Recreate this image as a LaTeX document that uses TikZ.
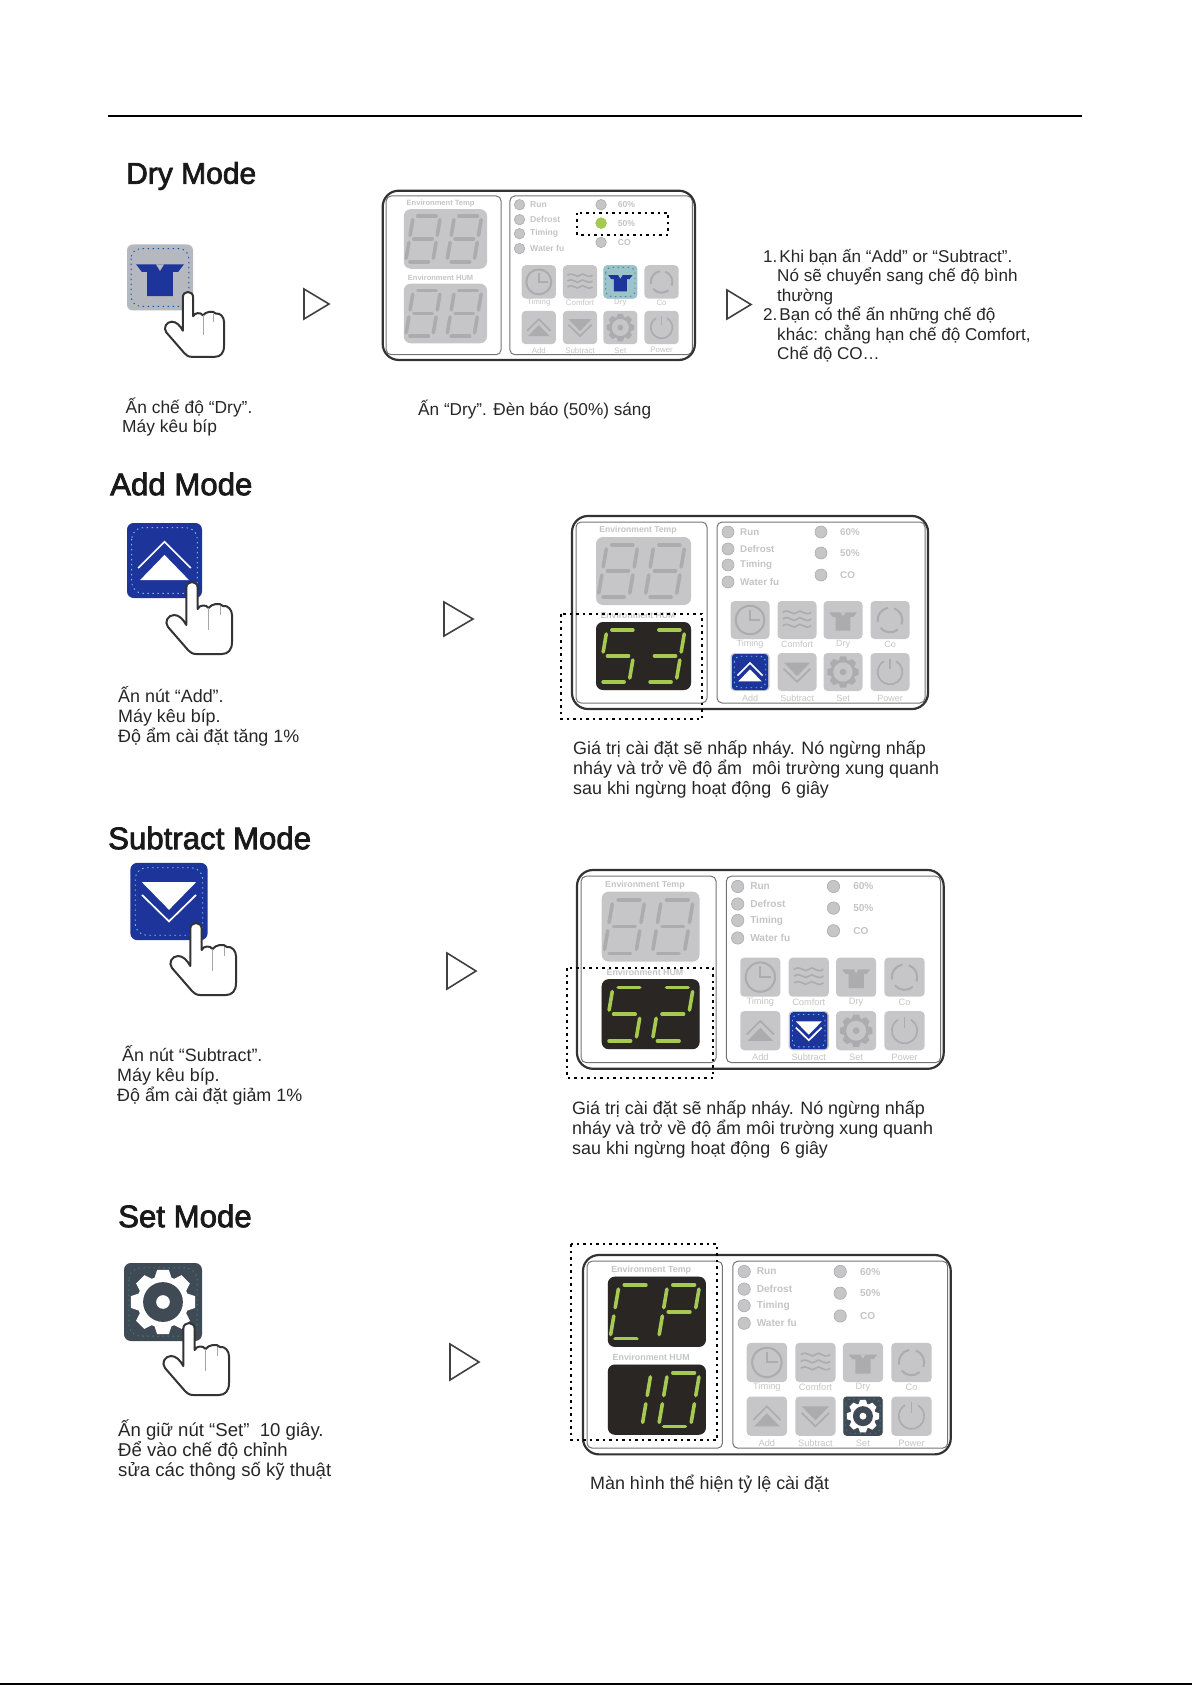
\documentclass[tikz,border=0pt]{standalone}
\usepackage{fontspec}
\setmainfont{Liberation Sans}
\newfontfamily\titlefont[FakeBold=2.4]{Liberation Sans}
\newcommand{\sega}{(-10.5,-26) -- (10.5,-26)}
\newcommand{\segb}{(15.5,-22) -- (15.5,-4)}
\newcommand{\segc}{(15.5,4) -- (15.5,22)}
\newcommand{\segd}{(-10.5,26) -- (10.5,26)}
\newcommand{\sege}{(-15.5,4) -- (-15.5,22)}
\newcommand{\segf}{(-15.5,-22) -- (-15.5,-4)}
\newcommand{\segg}{(-10.5,0) -- (10.5,0)}
\newcommand{\capstrut}{\rule{0pt}{20pt}}
\newcommand{\segdigit}[4]{%
    \begin{scope}[shift={(#1,#2)},xslant=0.17]
        \foreach \s in {#3} {
            \expandafter\let\expandafter\segpath\csname seg\s\endcsname
            \draw[segline,#4] \segpath;
        }
    \end{scope}}
\newcommand{\segdisplay}[6]{%
    \node[segbox,fill=#3] (#1) at (71.5,#2) {};
    \segdigit{46}{#2}{#5}{#4}
    \segdigit{93}{#2}{#6}{#4}}
\newcommand{\iconclock}[2]{%
    \draw[#1,line width=2pt] (0,0) circle[radius=15];
    \draw[#1,line width=2pt] (0,-11) -- (0,0) -- (11,0);}
\newcommand{\iconwave}[2]{%
    \foreach \d in {-8,-1,6} {
        \draw[#1,line width=1.6pt] (-15,\d) .. controls (-8,\d-5) and (-4,\d+5) .. (0,\d) .. controls (4,\d-5) and (8,\d+5) .. (15,\d);
    }}
\newcommand{\iconshirt}[2]{%
    \fill[#1] (-14.5,-8) -- (14.5,-8) -- (11,-3.4) -- (7.8,-3.4) -- (7.8,11.3) -- (-7.8,11.3) -- (-7.8,-3.4) -- (-11,-3.4) -- cycle;
    \fill[#2] (-2.5,-8) -- (2.5,-8) -- (0,-4) -- cycle;}
\newcommand{\iconcycle}[2]{%
    \draw[#1,line width=2pt] (-70:13) arc[start angle=-70,end angle=20,radius=13];
    \draw[#1,line width=2pt] (50:13) arc[start angle=50,end angle=140,radius=13];
    \draw[#1,line width=2pt] (170:13) arc[start angle=170,end angle=260,radius=13];}
\newcommand{\iconadd}[2]{%
    \draw[#1,line width=1.7pt] (-14,4) -- (0,-10) -- (14,4);
    \fill[#1] (-13,10.4) -- (0,-3) -- (13,10.4) -- cycle;}
\newcommand{\iconsub}[2]{%
    \draw[#1,line width=1.7pt] (-14,-3.4) -- (0,10.3) -- (14,-3.4);
    \fill[#1] (-14,-10) -- (14,-10) -- (0,4.3) -- cycle;}
\newcommand{\icongear}[2]{%
    \foreach \a in {0,45,...,315} {
        \fill[#1,rotate=\a] (-3,-16.5) -- (3,-16.5) -- (4.5,-12) -- (-4.5,-12) -- cycle;
    }
    \fill[#1] (0,0) circle[radius=13.2];
    \fill[#2] (0,0) circle[radius=10.2];
    \fill[#1] (0,0) circle[radius=3.5];}
\newcommand{\iconpower}[2]{%
    \draw[#1,line width=1.6pt] (-60:13) arc[start angle=-60,end angle=240,radius=13];
    \draw[#1,line width=1.6pt] (0,-14) -- (0,-3);}
\newcommand{\iconbutton}[7]{%
    \begin{scope}[shift={(#1,#2)},scale=#3]
        \fill[#4,rounded corners={#3*3.5pt}] (-20,-20) rectangle (20,20);
        \draw[#7,dash pattern=on 1.5pt off 3.5pt,line width=0.9pt,rounded corners={#3*6pt}] (-17.5,-17.5) rectangle (17.5,17.5);
        \csname icon#6\endcsname{#5}{#4}
    \end{scope}}
\newcommand{\presshand}[3]{%
    \begin{scope}[shift={(#1,#2)},scale=#3]
        \draw[handline] (-5.7,6) .. controls (-5.7,2) and (-3,0) .. (0,0) .. controls (3,0) and (5.7,2) .. (5.7,6) -- (5.7,27) .. controls (7,23) and (14,22) .. (16.7,26) .. controls (19,22) and (28,20) .. (31,24) .. controls (36,23) and (40,28) .. (40,33) -- (40,60) .. controls (40,68) and (36,72) .. (30,72) -- (4,72) .. controls (0,72) and (-2,70) .. (-4,68) -- (-24,45) .. controls (-28,40) and (-24,33) .. (-18,33) .. controls (-13,33) and (-9,37) .. (-5.7,43) -- cycle;
        \draw[gray!70,line width=0.9pt] (16.7,26) -- (16.7,48);
        \draw[gray!70,line width=0.9pt] (28,24) -- (28,33);
    \end{scope}}
\newcommand{\ctrlpanel}[1]{%
    \draw[paneledge,rounded corners=5pt] (4,6) rectangle (135,187);
    \draw[paneledge,rounded corners=5pt] (145,6) rectangle (353,187);
    \draw[panelrim,rounded corners=16pt] (0,0) rectangle (356,193);
    \node[envtext] (#1-temp-text) at (66,14.5) {Environment Temp};
    \node[envtext] (#1-hum-text) at (66,99.5) {Environment HUM};
    \segdisplay{#1-temp}{55}{offbox}{offseg}{a,b,c,d,e,f,g}{a,b,c,d,e,f,g}
    \segdisplay{#1-hum}{140}{offbox}{offseg}{a,b,c,d,e,f,g}{a,b,c,d,e,f,g}
    \foreach \k/\py/\t in {run/16/Run,defrost/33/Defrost,timing/49/Timing,water/66/Water fu} {
        \node[led] (#1-\k) at (156,\py) {};
        \node[ledtext] (#1-\k-text) at (168,\py) {\t};
    }
    \foreach \k/\py/\t in {sixty/16/60\%,fifty/37/50\%,co/59/CO} {
        \node[led] (#1-\k) at (249,\py) {};
        \node[ledtext] (#1-\k-text) at (268,\py) {\t};
    }
    \foreach \k/\px/\py/\ly/\t/\ic in {timing/178/104/128/Timing/clock,comfort/225/104/128/Comfort/wave,dry/271/104/128/Dry/shirt,cy/318/104/128/Co/cycle,add/178/156/182/Add/add,sub/225/156/182/Subtract/sub,set/271/156/182/Set/gear,power/318/156/182/Power/power} {
        \node[ctrlbtn] (#1-btn-\k) at (\px,\py) {};
        \node[btntext] (#1-btn-\k-text) at (\px,\ly) {\t};
        \begin{scope}[shift={(\px,\py)},scale=0.95]
            \csname icon\ic\endcsname{offseg}{offbox}
        \end{scope}
    }}
\begin{document}
\begin{tikzpicture}[x=1pt,y=-1pt,
    panelrim/.style={draw=black!80,line width=2.2pt},
    paneledge/.style={draw=black!55,line width=1pt},
    segbox/.style={shape=rectangle,rounded corners=7pt,minimum width=95pt,minimum height=68pt,inner sep=0pt},
    segline/.style={line width=3.6pt,line cap=round},
    led/.style={shape=circle,fill=offbox,draw=offseg,line width=0.6pt,minimum size=12pt,inner sep=0pt},
    ledtext/.style={anchor=west,inner sep=0pt,text=offtext,font=\fontsize{9.8}{10}\selectfont\bfseries},
    envtext/.style={inner sep=0pt,text=offtext,font=\fontsize{8.6}{9}\selectfont\bfseries},
    btntext/.style={inner sep=0pt,text=offtext,font=\fontsize{9}{10}\selectfont},
    ctrlbtn/.style={shape=rectangle,rounded corners=4pt,fill=offbox,minimum width=39pt,minimum height=38pt,inner sep=0pt},
    handline/.style={draw=black!80,fill=white,line width=2pt,line join=round},
    playmark/.style={draw=black!75,line width=1.6pt,line join=miter},
    selbox/.style={draw=black,line width=2pt,dash pattern=on 2.5pt off 4pt},
    modetitle/.style={anchor=west,inner sep=0pt,text=black!90,font=\fontsize{31.2}{32}\selectfont\titlefont},
    bodytext/.style={anchor=north west,align=left,inner sep=0pt,text=black!85,font=\fontsize{17.9}{20}\selectfont}]
    \definecolor{offbox}{RGB}{198,198,200}
    \definecolor{offseg}{RGB}{172,172,174}
    \definecolor{offtext}{RGB}{196,196,196}
    \definecolor{litbox}{RGB}{42,38,36}
    \definecolor{litseg}{RGB}{166,201,80}
    \definecolor{deepblue}{RGB}{29,53,154}
    \definecolor{drygrey}{RGB}{182,184,192}
    \definecolor{setslate}{RGB}{63,74,85}
    \useasboundingbox (0,0) rectangle (1192,1685);
    \draw[line width=2pt] (108,116) to (1082,116);
    \draw[line width=2pt] (0,1684) to (1192,1684);

    \node[modetitle,font=\fontsize{30}{32}\selectfont\titlefont] (dry-title) at (126,176) {Dry Mode};
    \iconbutton{160}{277.5}{1.65}{drygrey}{deepblue}{shirt}{blue!50!cyan!70!black}
    \presshand{188}{292}{0.9}
    \draw[playmark] (304,289) to (304,319) to (329,304) to cycle;
    \begin{scope}[shift={(382.7,190.7)},scale=0.877,transform shape]
        \ctrlpanel{dryp}
        \iconbutton{271}{104}{0.95}{drygrey!85!cyan}{deepblue}{shirt}{cyan!60!black}
        \node[led,fill=litseg,draw=litseg] (dryp-lit) at (249,37) {};
    \end{scope}
    \draw[selbox] (577,213) rectangle (668,235);
    \draw[playmark] (727,290) to (727,319) to (751,304.5) to cycle;
    \node[bodytext,font=\fontsize{17.4}{19.4}\selectfont] (dry-press) at (122,393) {\capstrut\hspace*{3.5pt}Ấn chế độ “Dry”.\\Máy kêu bíp};
    \node[bodytext,font=\fontsize{17.2}{20}\selectfont] (dry-led) at (418,395) {\capstrut Ấn “Dry”. Đèn báo (50\%) sáng};
    \node[bodytext,font=\fontsize{17.1}{19.5}\selectfont] (dry-note) at (763,242) {\capstrut 1.\hspace{2pt}Khi bạn ấn “Add” or “Subtract”.\\\hspace*{14pt}Nó sẽ chuyển sang chế độ bình\\\hspace*{14pt}thường\\2.\hspace{2pt}Bạn có thể ấn những chế độ\\\hspace*{14pt}khác: chẳng hạn chế độ Comfort,\\\hspace*{14pt}Chế độ CO…};

    \node[modetitle] (add-title) at (110,484) {Add Mode};
    \iconbutton{164.5}{560.5}{1.875}{deepblue}{white}{add}{blue!40!cyan!60}
    \presshand{192}{582}{1}
    \draw[playmark] (444,602) to (444,636) to (473,619) to cycle;
    \begin{scope}[shift={(572,516)},transform shape]
        \ctrlpanel{addp}
        \segdisplay{addp-lit}{140}{litbox}{litseg}{a,f,g,c,d}{a,b,g,c,d}
        \iconbutton{178}{156}{0.9}{deepblue}{white}{add}{blue!40!cyan!60}
    \end{scope}
    \draw[selbox] (561,614) rectangle (702,719);
    \node[bodytext] (add-press) at (118,682) {\capstrut Ấn nút “Add”.\\Máy kêu bíp.\\Độ ẩm cài đặt tăng 1\%};
    \node[bodytext] (add-blink) at (573,734) {\capstrut Giá trị cài đặt sẽ nhấp nháy. Nó ngừng nhấp\\nháy và trở về độ ẩm~ môi trường xung quanh\\sau khi ngừng hoạt động~ 6 giây};

    \node[modetitle] (sub-title) at (108,838) {Subtract Mode};
    \iconbutton{169}{901.5}{1.93}{deepblue}{white}{sub}{blue!40!cyan!60}
    \presshand{196}{923}{1}
    \draw[playmark] (447,953) to (447,989) to (476,971) to cycle;
    \begin{scope}[shift={(577,870)},scale=1.03,transform shape]
        \ctrlpanel{subp}
        \segdisplay{subp-lit}{140}{litbox}{litseg}{a,f,g,c,d}{a,b,g,e,d}
        \iconbutton{225}{156}{0.9}{deepblue}{white}{sub}{blue!40!cyan!60}
    \end{scope}
    \draw[selbox] (567,968) rectangle (713,1078);
    \node[bodytext] (sub-press) at (117,1041) {\capstrut\hspace*{5pt}Ấn nút “Subtract”.\\Máy kêu bíp.\\Độ ẩm cài đặt giảm 1\%};
    \node[bodytext] (sub-blink) at (572,1094) {\capstrut Giá trị cài đặt sẽ nhấp nháy. Nó ngừng nhấp\\nháy và trở về độ ẩm môi trường xung quanh\\sau khi ngừng hoạt động~ 6 giây};

    \node[modetitle] (set-title) at (118,1216) {Set Mode};
    \iconbutton{163}{1302}{1.95}{setslate}{white}{gear}{teal!60!gray}
    \presshand{189}{1323}{1}
    \draw[playmark] (450,1344) to (450,1380) to (479,1362) to cycle;
    \begin{scope}[shift={(583,1255)},scale=1.033,transform shape]
        \ctrlpanel{setp}
        \segdisplay{setp-up}{55}{litbox}{litseg}{a,f,e,d}{a,b,f,g,e}
        \segdisplay{setp-lit}{140}{litbox}{litseg}{b,c}{a,b,c,d,e,f}
        \iconbutton{271}{156}{0.95}{setslate}{white}{gear}{teal!60!gray}
    \end{scope}
    \draw[selbox] (571,1244) rectangle (717,1440);
    \node[bodytext,font=\fontsize{18.6}{20.2}\selectfont] (set-press) at (118,1416) {\capstrut Ấn giữ nút “Set”~ 10 giây.\\Để vào chế độ chỉnh\\sửa các thông số kỹ thuật};
    \node[bodytext] (set-ratio) at (590,1469) {\capstrut Màn hình thể hiện tỷ lệ cài đặt};
    \end{tikzpicture}
\end{document}
